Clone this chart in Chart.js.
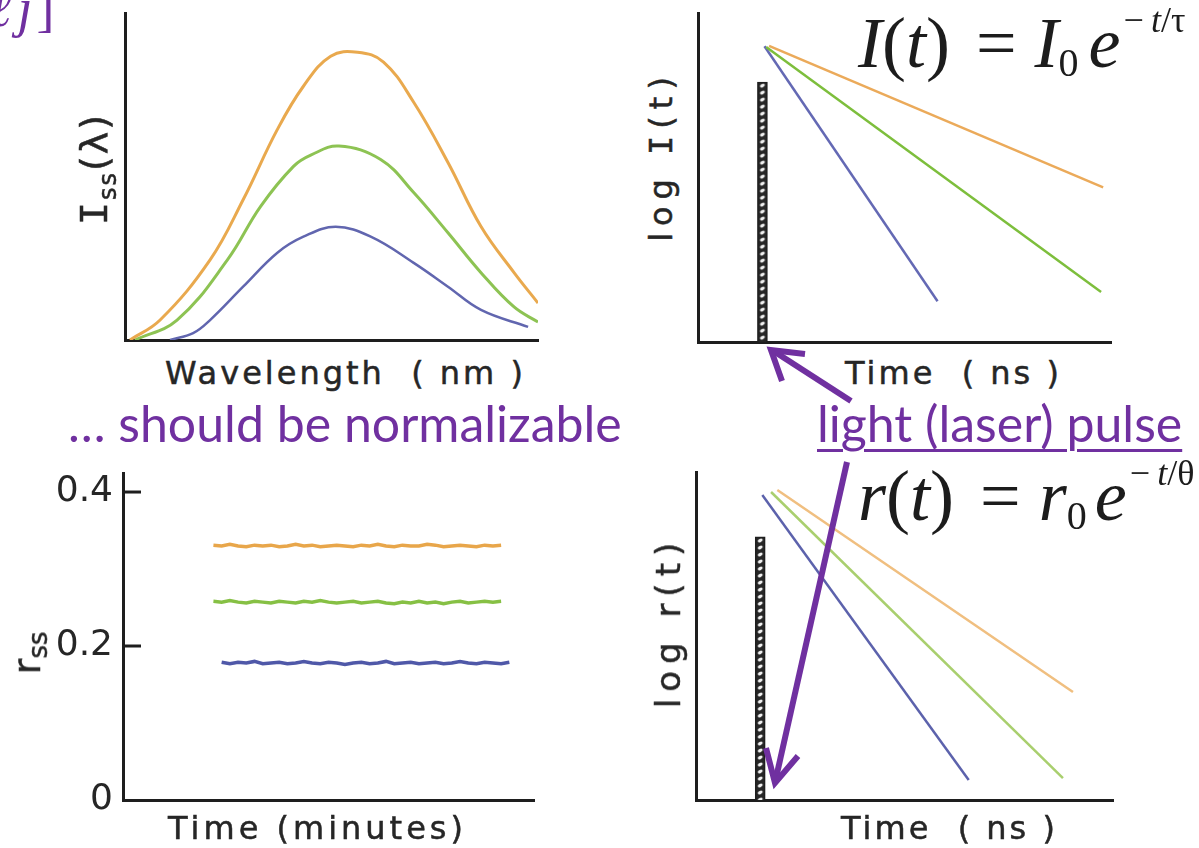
<!DOCTYPE html>
<html>
<head>
<meta charset="utf-8">
<script src="https://cdn.jsdelivr.net/npm/chart.js@4.4.1/dist/chart.umd.min.js"></script>
<style>
  html, body { margin: 0; padding: 0; background: #fff; }
  #page { position: relative; width: 1199px; height: 848px; overflow: hidden; background: #fff; }
  .panel { position: absolute; }
  .xlab { position: absolute; font-family: 'DejaVu Sans'; color: #262626; white-space: pre; line-height: 1; font-size: 32px; letter-spacing: 3px; -webkit-text-stroke: 0.5px #262626; }
  .ylab { position: absolute; font-family: 'DejaVu Sans'; color: #262626; white-space: pre; line-height: 1; transform: translate(-50%, -50%) rotate(-90deg); -webkit-text-stroke: 0.5px #262626; }
  .mono { font-family: 'DejaVu Sans Mono'; }
  .eq { position: absolute; font-family: 'Liberation Serif'; font-size: 72px; line-height: 1; white-space: nowrap; color: #1c1c1c; }
  .eq .sub { font-size: 40px; position: relative; top: 9px; }
  .eq .sup { font-size: 36px; position: relative; top: -35px; margin-left: 3px; }
  .note { position: absolute; font-family: Lato; color: #7030A0; line-height: 1; white-space: nowrap; font-size: 50px; }
  svg { position: absolute; left: 0; top: 0; pointer-events: none; }
</style>
</head>
<body>
<div id="page">
  <div class="panel" id="p1" style="left:115px; top:9px; width:429px; height:341px;"><canvas id="c1"></canvas></div>
  <div class="panel" id="p2" style="left:688px; top:9px; width:429px; height:343px;"><canvas id="c2"></canvas></div>
  <div class="panel" id="p3" style="left:20px; top:469px; width:520px; height:341px;"><canvas id="c3"></canvas></div>
  <div class="panel" id="p4" style="left:686px; top:468px; width:433px; height:342px;"><canvas id="c4"></canvas></div>

  <!-- axis titles -->
  <div class="xlab" style="left:165px; top:357px;">Wavelength  ( nm )</div>
  <div class="xlab" style="left:845px; top:357px;">Time  ( ns )</div>
  <div class="xlab" style="left:168px; top:812px; letter-spacing:4px;">Time (minutes)</div>
  <div class="xlab" style="left:841px; top:812px;">Time  ( ns )</div>

  <div class="ylab" style="left:94px; top:169px; font-size:38px; letter-spacing:2px;"><span class="mono">I</span><span style="font-size:24px; position:relative; top:9px;">ss</span>(λ)</div>
  <div class="ylab" style="left:661px; top:156px; font-size:32px; letter-spacing:7px;">log <span class="mono">I</span>(t)</div>
  <div class="ylab" style="left:27px; top:653px; font-size:38px;">r<span style="font-size:26px; position:relative; top:7px;">ss</span></div>
  <div class="ylab" style="left:668px; top:622px; font-size:34px; letter-spacing:7px;">log r(t)</div>

  <!-- equations -->
  <div class="eq" style="left:858px; top:7px;"><i>I</i>(<i>t</i>)<span style="margin-left:26px">=</span><span style="margin-left:18px"><i>I</i></span><span class="sub">0</span><i style="margin-left:10px">e</i><span class="sup">−&thinsp;<i>t</i>/τ</span></div>
  <div class="eq" style="left:858px; top:460px;"><i>r</i>(<i>t</i>)<span style="margin-left:26px">=</span><span style="margin-left:18px"><i>r</i></span><span class="sub">0</span><i style="margin-left:8px">e</i><span class="sup">−&thinsp;<i>t</i>/θ</span></div>

  <!-- purple notes -->
  <div class="note" style="left:-11px; top:-19px; font-family:'Liberation Serif'; font-style:italic; font-size:54px;">ℓ<span style="margin-left:6px">j</span><span style="margin-left:4px; font-style:normal">]</span></div>
  <div class="note" style="left:68px; top:398px;">… should be normalizable</div>
  <div class="note" style="left:817px; top:398px; text-decoration:underline; text-decoration-thickness:3px; text-underline-offset:7px;">light (laser) pulse</div>

  <svg width="1199" height="848">
    <g stroke="#7030A0" stroke-width="6" fill="none" stroke-linejoin="miter">
      <line x1="851" y1="401" x2="775" y2="352"/>
      <polyline points="805,354 771,350 782,381"/>
      <line x1="847" y1="462" x2="776" y2="778"/>
      <polyline points="766,748 775,783 798,756"/>
    </g>
  </svg>
</div>

<script>
// ---- panel 1: steady-state emission spectra I_ss(lambda), arbitrary units
var wlOrange = [1.2, 8.5, 20.6, 28.6, 36.9, 43.2, 49.8, 56.3, 62.6, 69.9, 78.2, 86.2, 94.2, 100];
var issOrange = [0, 6.1, 24.5, 42.9, 64.4, 77.6, 86.8, 88.0, 85.0, 72.7, 54.3, 34.7, 20.6, 11.3];
var wlGreen = [2.4, 12.6, 24.8, 32.8, 40.8, 45.1, 51.8, 61.9, 69.9, 78.2, 86.2, 94.2, 100];
var issGreen = [0, 6.1, 24.5, 40.8, 53.1, 56.6, 59.3, 55.2, 45.1, 32.8, 20.6, 10.1, 5.5];
var wlBlue = [10.9, 16.5, 20.6, 28.6, 36.9, 43.2, 51.0, 59.5, 69.9, 78.2, 86.2, 97.6];
var issBlue = [0, 2.1, 6.1, 16.3, 26.7, 31.6, 34.6, 31.6, 23.6, 16.3, 9.2, 4.0];

// ---- panel 2: intensity decay log I(t), start and end of each line
var pulseI = [15.6];
var pulseITop = [79];
var tOrangeI = [17.2, 98.1], logIOrange = [90.0, 47.0];
var tGreenI = [16.5, 97.6], logIGreen = [89.7, 15.2];
var tBlueI = [16.1, 58.0], logIBlue = [89.9, 12.4];

// ---- panel 3: steady-state anisotropy r_ss vs time (minutes)
var minutes = [22, 24, 26, 28, 30, 32, 34, 36, 38, 40, 42, 44, 46, 48, 50, 52, 54, 56, 58, 60,
               62, 64, 66, 68, 70, 72, 74, 76, 78, 80, 82, 84, 86, 88, 90, 92, 94];
var rssOrange = [0.331, 0.330, 0.332, 0.330, 0.329, 0.331, 0.330, 0.331, 0.329, 0.330,
                 0.332, 0.330, 0.331, 0.329, 0.330, 0.331, 0.330, 0.329, 0.331, 0.330,
                 0.332, 0.330, 0.329, 0.331, 0.330, 0.330, 0.332, 0.331, 0.329, 0.330,
                 0.331, 0.330, 0.329, 0.331, 0.330, 0.331, null];
var rssGreen = [0.258, 0.257, 0.259, 0.257, 0.256, 0.258, 0.257, 0.256, 0.258, 0.257,
                0.256, 0.258, 0.257, 0.259, 0.257, 0.256, 0.257, 0.258, 0.256, 0.257,
                0.258, 0.256, 0.255, 0.257, 0.256, 0.258, 0.256, 0.257, 0.255, 0.257,
                0.258, 0.256, 0.257, 0.258, 0.257, 0.258, null];
var rssBlue = [null, 0.179, 0.177, 0.179, 0.178, 0.180, 0.177, 0.178, 0.179, 0.177,
               0.178, 0.180, 0.178, 0.177, 0.179, 0.178, 0.176, 0.178, 0.179, 0.177,
               0.178, 0.180, 0.177, 0.178, 0.179, 0.177, 0.178, 0.179, 0.177, 0.178,
               0.180, 0.178, 0.177, 0.179, 0.178, 0.177, 0.179];
var rssTicks = [0, 0.2, 0.4];

// ---- panel 4: anisotropy decay log r(t)
var pulseR = [15.4];
var pulseRTop = [80.2];
var tOrangeR = [19.5, 90.4], logROrange = [94.5, 32.9];
var tGreenR = [18.0, 88.0], logRGreen = [93.9, 6.7];
var tBlueR = [15.9, 65.4], logRBlue = [93.0, 6.1];

var axisColor = '#1e1e1e';
Chart.defaults.font.family = 'DejaVu Sans';

function pts(xs, ys) {
  return xs.map(function (x, i) { return { x: x, y: ys[i] }; });
}

function line(xs, ys, color, width, tension) {
  return {
    type: 'line', data: pts(xs, ys), borderColor: color, borderWidth: width,
    pointRadius: 0, fill: false, tension: tension || 0
  };
}

// hatched pulse tile
function hatchPattern() {
  var tile = document.createElement('canvas');
  tile.width = 10; tile.height = 7;
  var g = tile.getContext('2d');
  g.fillStyle = '#262626';
  g.fillRect(0, 0, 10, 7);
  g.fillStyle = '#f0f0f0';
  g.beginPath();
  g.ellipse(5, 3.5, 2.6, 1.6, -0.5, 0, Math.PI * 2);
  g.fill();
  return document.createElement('canvas').getContext('2d').createPattern(tile, 'repeat');
}

function pulse(xs, tops) {
  return {
    type: 'bar', data: pts(xs, tops), barThickness: 10,
    backgroundColor: hatchPattern(), borderColor: '#1e1e1e', borderWidth: 1.5
  };
}

// keep the hatch aligned on the bar
var alignHatch = {
  id: 'alignHatch',
  beforeDatasetsDraw: function (chart) {
    chart.data.datasets.forEach(function (ds, i) {
      if (ds.type !== 'bar') return;
      var bar = chart.getDatasetMeta(i).data[0];
      ds.backgroundColor.setTransform(new DOMMatrix([1, 0, 0, 1, bar.x - 5, bar.y]));
    });
  }
};

function frame(xMin, xMax, yMin, yMax, yWidth) {
  return {
    x: {
      type: 'linear', min: xMin, max: xMax, offset: false,
      grid: { display: false, drawTicks: false }, ticks: { display: false },
      border: { color: axisColor, width: 3 },
      afterFit: function (s) { s.height = 10; s.paddingLeft = 0; s.paddingRight = 0; }
    },
    y: {
      type: 'linear', min: yMin, max: yMax,
      grid: { display: false, drawTicks: false }, ticks: { display: false },
      border: { color: axisColor, width: 3 },
      afterFit: function (s) { s.width = yWidth; s.paddingTop = 0; s.paddingBottom = 0; }
    }
  };
}

function options(scales) {
  return {
    responsive: true, maintainAspectRatio: false, animation: false, events: [],
    layout: { padding: { top: 4, right: 6, left: 0, bottom: 0 } },
    plugins: { legend: { display: false }, tooltip: { enabled: false } },
    scales: scales
  };
}

// panel 1
new Chart(document.getElementById('c1'), {
  type: 'line',
  data: {
    datasets: [
      line(wlOrange, issOrange, '#E9A94E', 3, 0.4),
      line(wlGreen, issGreen, '#8DC353', 3, 0.4),
      line(wlBlue, issBlue, '#6166AF', 2.5, 0.4)
    ]
  },
  options: options(frame(0, 100, 0, 100, 10))
});

// panel 2
new Chart(document.getElementById('c2'), {
  type: 'line',
  data: {
    datasets: [
      line(tOrangeI, logIOrange, '#EBAA5A', 2.5),
      line(tGreenI, logIGreen, '#7DBE3C', 2.5),
      line(tBlueI, logIBlue, '#6469B4', 2.5),
      pulse(pulseI, pulseITop)
    ]
  },
  options: options(frame(0, 100, 0, 100, 10)),
  plugins: [alignHatch]
});

// panel 3
var s3 = frame(0, 100, 0, 0.4247, 103);
s3.y.ticks = {
  display: true, padding: 10, color: '#262626', font: { size: 36 },
  callback: function (v) { return v === 0 ? '0' : v.toFixed(1); }
};
s3.y.afterBuildTicks = function (s) {
  s.ticks = rssTicks.map(function (v) { return { value: v }; });
};
var innerTicks = {
  id: 'innerTicks',
  afterDraw: function (chart) {
    var ys = chart.scales.y, ctx = chart.ctx, x0 = chart.chartArea.left;
    ctx.save();
    ctx.strokeStyle = axisColor;
    ctx.lineWidth = 3;
    rssTicks.forEach(function (v) {
      if (v === 0) return;
      var y = ys.getPixelForValue(v);
      ctx.beginPath();
      ctx.moveTo(x0, y);
      ctx.lineTo(x0 + 18, y);
      ctx.stroke();
    });
    ctx.restore();
  }
};
new Chart(document.getElementById('c3'), {
  type: 'line',
  data: {
    datasets: [
      line(minutes, rssOrange, '#E8A64A', 3.5),
      line(minutes, rssGreen, '#86C044', 3.5),
      line(minutes, rssBlue, '#4F58A8', 3.5)
    ]
  },
  options: options(s3),
  plugins: [innerTicks]
});

// panel 4
new Chart(document.getElementById('c4'), {
  type: 'line',
  data: {
    datasets: [
      line(tOrangeR, logROrange, '#F0BF80', 2.5),
      line(tGreenR, logRGreen, '#A9CF6E', 2.5),
      line(tBlueR, logRBlue, '#5C62AC', 2.5),
      pulse(pulseR, pulseRTop)
    ]
  },
  options: options(frame(0, 100, 0, 100, 10)),
  plugins: [alignHatch]
});
</script>
</body>
</html>
